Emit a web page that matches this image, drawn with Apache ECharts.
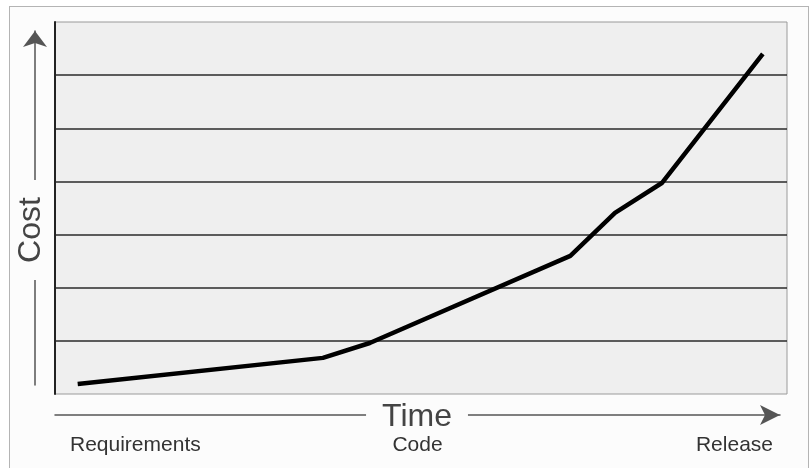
<!DOCTYPE html>
<html>
<head>
<meta charset="utf-8">
<script src="https://cdn.jsdelivr.net/npm/echarts@6/dist/echarts.min.js"></script>
<style>
	html, body { margin: 0; padding: 0; background: #fff; }
	#frame {
		position: absolute; left: 9px; top: 6px; width: 798px; height: 470px;
		border: 1px solid #b4b4b4; background: #fcfcfc;
	}
	#main { position: absolute; left: 0; top: 0; width: 810px; height: 468px; }
</style>
</head>
<body>
<div id="frame"></div>
<div id="main"></div>
<script>
	// time along the project (0-100) and relative cost (grid units)
	var timeVals = [3.1, 36.6, 43.0, 70.4, 76.5, 82.9, 96.7];
	var costVals = [0.19, 0.68, 0.96, 2.6, 3.41, 3.97, 6.4];
	var stages = ['Requirements', 'Code', 'Release'];
	var xName = 'Time';
	var yName = 'Cost';

	var chart = echarts.init(document.getElementById('main'));
	var points = timeVals.map(function(t, i) { return [t, costVals[i]]; });
	var font = 'Liberation Sans, Arial, sans-serif';

	// axis titles sit on top of the arrow lines, with a patch of background behind them
	function axisTitle(text, x, y, rot, pad) {
		return {
			type: 'text', x: x, y: y, rotation: rot, z: 100,
			style: {
				text: text, font: '32px ' + font, fill: '#444',
				align: 'center', verticalAlign: 'middle',
				backgroundColor: '#fcfcfc', padding: pad
			}
		};
	}

	var option = {
		animation: false,
		grid: [
			{ left: 55, top: 22, right: 23, bottom: 74, show: true, backgroundColor: '#efefef', borderColor: '#9a9a9a', borderWidth: 1 },
			{ left: 55, top: 31, right: 30, bottom: 83, show: false }
		],
		xAxis: [
			{ gridIndex: 0, type: 'value', min: 0, max: 100, show: false },
			{
				gridIndex: 1, type: 'category', data: stages, boundaryGap: false,
				position: 'bottom', offset: 30,
				axisLine: {
					onZero: false,
					lineStyle: { color: '#555', width: 1.5 },
					symbol: ['none', 'arrow'], symbolSize: [15, 20]
				},
				axisTick: { show: false },
				axisLabel: {
					color: '#333', fontSize: 21, fontFamily: font, margin: 20,
					alignMinLabel: 'left', alignMaxLabel: 'right',
					formatter: function(v, i) {
						if (i === 0) return '{a|' + v + '}';
						if (i === stages.length - 1) return '{c|' + v + '}';
						return v;
					},
					rich: {
						a: { fontSize: 21, fontFamily: font, color: '#333', padding: [0, 0, 0, 15] },
						c: { fontSize: 21, fontFamily: font, color: '#333', padding: [0, 7, 0, 0] }
					}
				}
			}
		],
		yAxis: [
			{
				gridIndex: 0, type: 'value', min: 0, max: 7, interval: 1,
				axisLine: { show: true, lineStyle: { color: '#222', width: 2 } },
				axisTick: { show: false },
				axisLabel: { show: false },
				splitLine: { show: true, showMinLine: false, showMaxLine: false, lineStyle: { color: '#2a2a2a', width: 1.5 } }
			},
			{
				gridIndex: 1, type: 'value', min: 0, max: 1,
				position: 'left', offset: 20,
				axisLine: {
					show: true, onZero: false,
					lineStyle: { color: '#555', width: 1.5 },
					symbol: ['none', 'arrow'], symbolSize: [18, 16]
				},
				axisTick: { show: false },
				axisLabel: { show: false },
				splitLine: { show: false }
			}
		],
		graphic: [
			axisTitle(xName, 417, 417, 0, [0, 16]),
			axisTitle(yName, 31, 230, Math.PI / 2, [0, 17])
		],
		series: [{
			type: 'line',
			xAxisIndex: 0, yAxisIndex: 0,
			data: points,
			showSymbol: false,
			lineStyle: { color: '#000', width: 4.5 }
		}]
	};
	chart.setOption(option);
</script>
</body>
</html>
